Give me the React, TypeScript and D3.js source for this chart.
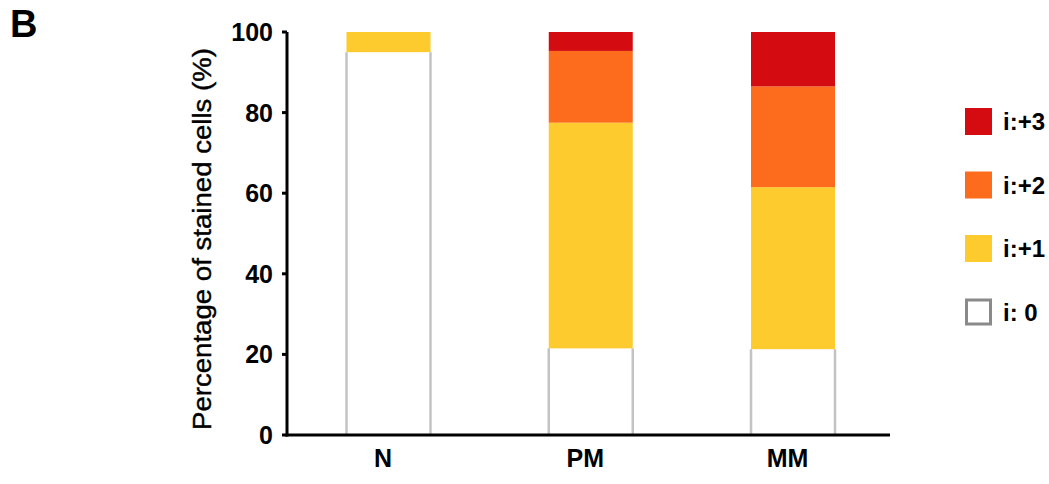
import React, { useRef, useEffect } from 'react';
import * as d3 from 'd3';

const groups = ['N', 'PM', 'MM'];
const levels = ['i: 0', 'i:+1', 'i:+2', 'i:+3'];
const level0 = [95, 21.5, 21.3];
const level1 = [5, 56, 40.2];
const level2 = [0, 17.8, 25];
const level3 = [0, 4.7, 13.5];
const yTicks = [0, 20, 40, 60, 80, 100];

const colors = ['#ffffff', '#fecb2e', '#fd6b1c', '#d40c12'];

const App = () => {
  const svgRef = useRef<SVGSVGElement>(null);

  useEffect(() => {
    const svg = d3.select(svgRef.current);
    svg.selectAll('*').remove();

    const font = '"Liberation Sans", Arial, sans-serif';
    const left = 287, bottom = 435, top = 32, right = 890;

    const x = d3.scalePoint().domain(groups).range([388.5, 793]);
    const y = d3.scaleLinear().domain([0, 100]).range([bottom, top]);

    const table = groups.map((g, i) => ({
      group: g,
      [levels[0]]: level0[i],
      [levels[1]]: level1[i],
      [levels[2]]: level2[i],
      [levels[3]]: level3[i],
    }));
    const stacked = d3.stack<any>().keys(levels)(table);

    const bw = 84;
    const cx = (g: string) => x(g) as number;

    stacked.forEach((layer, li) => {
      layer.forEach((d, gi) => {
        const g = groups[gi];
        const h = y(d[0]) - y(d[1]);
        if (h <= 0) return;
        svg.append('rect')
          .attr('x', cx(g) - bw / 2)
          .attr('y', y(d[1]))
          .attr('width', bw)
          .attr('height', h)
          .attr('fill', colors[li]);
        if (li === 0) {
          [cx(g) - bw / 2, cx(g) + bw / 2].forEach(px => {
            svg.append('line')
              .attr('x1', px).attr('x2', px)
              .attr('y1', y(d[0])).attr('y2', y(d[1]))
              .attr('stroke', '#c3c3c3').attr('stroke-width', 2.5);
          });
        }
      });
    });

    // axes
    svg.append('line').attr('x1', left).attr('x2', left).attr('y1', top).attr('y2', bottom + 1.5)
      .attr('stroke', '#000').attr('stroke-width', 3);
    svg.append('line').attr('x1', left - 1.5).attr('x2', right).attr('y1', bottom).attr('y2', bottom)
      .attr('stroke', '#000').attr('stroke-width', 3);

    yTicks.forEach(t => {
      svg.append('line').attr('x1', left - 5).attr('x2', left).attr('y1', y(t)).attr('y2', y(t))
        .attr('stroke', '#000').attr('stroke-width', 3);
      svg.append('text').attr('x', left - 14).attr('y', y(t) + 9)
        .attr('text-anchor', 'end').attr('font-family', font).attr('font-weight', 'bold')
        .attr('font-size', 25).text(t);
    });

    groups.forEach(g => {
      svg.append('text').attr('x', cx(g) - 5.5).attr('y', 467).attr('text-anchor', 'middle')
        .attr('font-family', font).attr('font-weight', 'bold').attr('font-size', 25).text(g);
    });

    svg.append('text')
      .attr('transform', `translate(211,239) rotate(-90)`)
      .attr('text-anchor', 'middle').attr('font-family', font).attr('font-size', 26)
      .attr('textLength', 382).attr('lengthAdjust', 'spacingAndGlyphs')
      .attr('fill', '#000').attr('stroke', '#000').attr('stroke-width', 0.4)
      .text('Percentage of stained cells (%)');

    svg.append('text').attr('x', 10).attr('y', 37).attr('font-family', font)
      .attr('font-weight', 'bold').attr('font-size', 38).text('B');

    // legend
    const legendOrder = [3, 2, 1, 0];
    legendOrder.forEach((li, k) => {
      const ly = 108 + k * 63.5;
      svg.append('rect').attr('x', li === 0 ? 966.5 : 965).attr('y', li === 0 ? ly + 1.5 : ly)
        .attr('width', li === 0 ? 24 : 27).attr('height', li === 0 ? 24 : 27)
        .attr('fill', colors[li])
        .attr('stroke', li === 0 ? '#8a8a8a' : 'none').attr('stroke-width', 3);
      svg.append('text').attr('x', 1003).attr('y', ly + 22).attr('font-family', font)
        .attr('font-weight', 'bold').attr('font-size', 24).text(levels[li]);
    });
  }, []);

  return <svg ref={svgRef} width={1049} height={484} style={{ position: 'absolute', left: 0, top: 0 }}></svg>;
};

export default App;
